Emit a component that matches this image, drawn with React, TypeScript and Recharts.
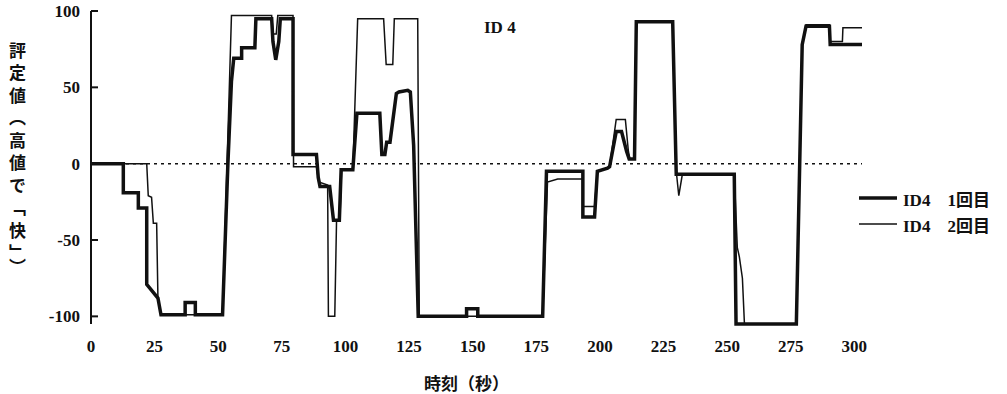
import { LineChart, Line, XAxis, YAxis, ReferenceLine, Legend } from 'recharts';

// time (s) on the x axis, rating on the y axis
const xTicks = [0, 25, 50, 75, 100, 125, 150, 175, 200, 225, 250, 275, 300];
const yTicks = [-100, -50, 0, 50, 100];

// ID4 1st run (thick line)
const run1Time = [
    0, 12.7, 12.7, 18.6, 18.6, 21.9, 21.9, 26.3, 27.5, 37, 37, 41, 41, 51.7,
    53.8, 55.2, 56.1, 59.2, 59.2, 64.4, 64.8, 71, 71.5, 72.6, 73.8, 74.4, 79.4,
    79.4, 88.6, 89.3, 90, 93.8, 95.3, 97.6, 98.3, 102.9, 104.5, 113.5, 114.3,
    115.5, 116.2, 117.5, 120, 121, 124.5, 125.5, 126.8, 128.6, 147.6, 147.6,
    152, 152, 177.5, 179, 193.3, 193.3, 197.9, 199, 203, 203.8, 206.4, 208.5,
    210.5, 211.5, 213.6, 214.3, 228.6, 230, 252.8, 253.5, 277.2, 279.5, 281,
    290.2, 290.5, 303
];
const run1Value = [
    0, 0, -19, -19, -29, -29, -79, -88, -99, -99, -91, -91, -99, -99,
    0, 54, 69, 69, 76, 76, 95, 95, 80, 68, 80, 95, 95,
    6, 6, -9, -15, -15, -37, -37, -4, -4, 33, 33, 6,
    6, 14, 14, 46, 47, 48, 47, 12, -100, -100, -95,
    -95, -100, -100, -5, -5, -35, -35, -5, -3, -2, 21, 21,
    8, 3, 3, 93, 93, -7, -7, -105, -105, 78, 90,
    90, 78, 78
];

// ID4 2nd run (thin line)
const run2Time = [
    0, 21.9, 22.5, 23.8, 24.5, 25.8, 26.3, 27.5, 51.7, 55.2, 71, 71.6, 72.8,
    73.4, 79.4, 79.6, 88.6, 89.5, 93, 93.3, 95.8, 96.5, 97.8, 98.5, 102.9,
    104.8, 115, 116, 118.6, 119.2, 128.4, 129, 177.5, 179.4, 183.4, 193.3,
    193.3, 197.9, 199, 203, 203.8, 206.4, 210, 211.2, 211.8, 213.6, 214.3,
    228.6, 230, 231, 232.4, 252.8, 254, 254.8, 256, 256.8, 277.2, 279.5, 281,
    290.2, 290.5, 295.3, 295.5, 303
];
const run2Value = [
    0, 0, -21, -22, -39, -39, -88, -99, -99, 97, 97, 85, 85,
    97, 97, -2, -2, -12, -14, -100, -100, -37, -37, -4, -4,
    95, 95, 65, 65, 95, 95, -100, -100, -12, -10, -10,
    -28, -28, -5, -3, -2, 29, 29, 8, 3, 3, 93,
    93, -5, -21, -7, -7, -55, -61, -75, -105, -105, 78, 91,
    91, 80, 80, 89, 89
];

const run1 = run1Time.map((t, i) => ({ t, v: run1Value[i] }));
const run2 = run2Time.map((t, i) => ({ t, v: run2Value[i] }));

const numFont = '"Liberation Serif", "Noto Sans CJK JP", serif';
const jpFont = '"Noto Sans CJK JP", sans-serif';
const ink = '#111';

const YTick = ({ x, y, payload }: any) => (
    <g>
        <line x1={x} x2={x + 7} y1={y} y2={y} stroke={ink} strokeWidth={2} />
        <text
            x={x - 11}
            y={y}
            dy="0.35em"
            textAnchor="end"
            fontFamily={numFont}
            fontWeight="bold"
            fontSize={17}
            fill={ink}
        >
            {payload.value}
        </text>
    </g>
);

const lineWidths = [3.5, 1.5];

const renderLegend = ({ payload }: any) => (
    <div>
        {(payload || []).map((item: any, i: number) => (
            <div key={i} style={{ display: 'flex', alignItems: 'center', height: 26 }}>
                <svg width={38} height={10}>
                    <line x1={0} x2={38} y1={5} y2={5} stroke={ink} strokeWidth={lineWidths[i]} />
                </svg>
                <span
                    style={{
                        marginLeft: 6,
                        fontFamily: numFont,
                        fontWeight: 'bold',
                        fontSize: 17,
                        color: ink,
                        whiteSpace: 'pre'
                    }}
                >
                    {item.value}
                </span>
            </div>
        ))}
    </div>
);

const App = () => {
    return (
        <div style={{ position: 'absolute', left: 0, top: 0, width: 1007, height: 394, background: '#fff' }}>
            <LineChart width={1007} height={394} margin={{ top: 11, right: 145, bottom: 40, left: 0 }}>
                <XAxis
                    type="number"
                    dataKey="t"
                    domain={[0, 303]}
                    ticks={xTicks}
                    height={30}
                    axisLine={false}
                    tickLine={false}
                    tickSize={0}
                    tickMargin={16}
                    tick={{ fill: ink, fontFamily: numFont, fontWeight: 'bold', fontSize: 17 }}
                    allowDuplicatedCategory={false}
                />
                <YAxis
                    type="number"
                    domain={[-100, 100]}
                    ticks={yTicks}
                    width={91}
                    axisLine={{ stroke: ink, strokeWidth: 2 }}
                    tickLine={false}
                    tickSize={0}
                    tickMargin={0}
                    tick={<YTick />}
                />
                <ReferenceLine y={0} stroke={ink} strokeWidth={1.5} strokeDasharray="3 4" />
                <Line
                    data={run1}
                    dataKey="v"
                    name={'ID4\u30001回目'}
                    type="linear"
                    stroke={ink}
                    strokeWidth={3.5}
                    dot={false}
                    isAnimationActive={false}
                />
                <Line
                    data={run2}
                    dataKey="v"
                    name={'ID4\u30002回目'}
                    type="linear"
                    stroke={ink}
                    strokeWidth={1.5}
                    dot={false}
                    isAnimationActive={false}
                />
                <Legend
                    layout="vertical"
                    align="center"
                    verticalAlign="middle"
                    content={renderLegend}
                    wrapperStyle={{ position: 'absolute', left: 859, top: 185, width: 148 }}
                />
            </LineChart>
            <div
                style={{
                    position: 'absolute', left: 9, top: 42, writingMode: 'vertical-rl',
                    fontFamily: jpFont, fontWeight: 'bold', fontSize: 17, letterSpacing: 5.5,
                    color: ink, lineHeight: 1
                }}
            >
                評定値（高値で「快」）
            </div>
            <div
                style={{
                    position: 'absolute', left: 484, top: 18, fontFamily: numFont,
                    fontWeight: 'bold', fontSize: 17, color: ink, whiteSpace: 'pre'
                }}
            >
                ID 4
            </div>
            <div
                style={{
                    position: 'absolute', left: 424, top: 370, fontFamily: jpFont,
                    fontWeight: 'bold', fontSize: 17, color: ink, whiteSpace: 'pre'
                }}
            >
                時刻（秒）
            </div>
        </div>
    );
};

export default App;
